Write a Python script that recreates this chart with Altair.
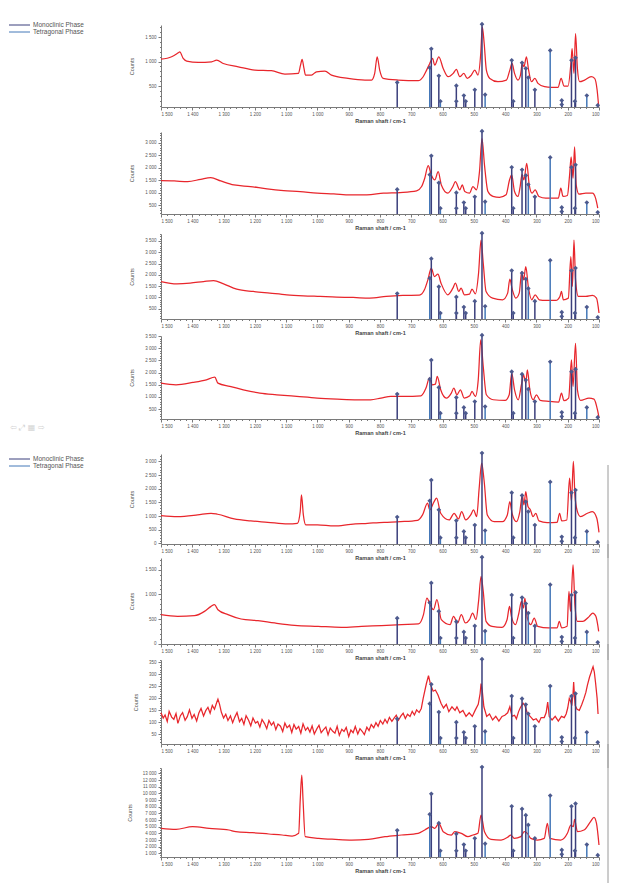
import altair as alt
import pandas as pd

# ---------------- reference stick lines (relative intensity) ----------------
stick_wn = [745, 641, 636, 612, 607, 556, 556, 532, 526, 497, 474, 464, 379, 374,
            346, 334, 326, 305, 256, 219, 219, 188, 177, 175, 139, 104]
stick_rel = [0.30, 0.48, 0.71, 0.38, 0.07, 0.07, 0.26, 0.14, 0.07, 0.21, 1.01, 0.15, 0.57, 0.07,
             0.54, 0.47, 0.36, 0.21, 0.69, 0.08, 0.03, 0.57, 0.07, 0.60, 0.14, 0.02]
stick_phase = ["M", "T", "M", "M", "T", "M", "M", "M", "M", "M", "M", "T", "M", "M",
               "M", "M", "T", "M", "T", "M", "M", "M", "M", "M", "T", "M"]

legend_labels = ["Monoclinic Phase", "Tetragonal Phase"]
toolbar_icons = ["\u21e6  \u2922  \u25a6  \u21e8"]

# ---------------- spectra ----------------
p1_wn = [1500,1466,1445,1440,1429,1418,1381,1338,1322,1301,1253,1200,1147,1104,1061,1054,1049,1043,1038,1019,
         1003,976,955,902,848,827,817,809,801,790,742,678,662,651,641,632,625,612,598,582,
         566,556,545,532,521,508,497,487,478,473,467,460,449,423,396,385,378,370,359,351,
         345,340,332,325,316,305,295,274,253,231,221,212,199,189,186,180,175,169,162,146,
         125,114,106,101]
p1_val = [1050,1100,1180,1200,1064,1010,983,996,1030,962,894,826,813,745,758,928,1044,860,724,724,
          792,806,724,656,622,622,758,1098,826,656,622,609,690,826,962,1064,928,1098,860,690,
          758,840,690,758,656,724,826,724,1166,1710,1370,826,656,588,622,826,962,758,622,724,
          962,894,1098,826,588,656,554,486,473,473,656,500,500,1030,1268,758,1574,860,588,622,
          690,656,418,78]

p2_wn = [1500,1458,1415,1373,1341,1309,1267,1214,1161,1108,1055,1001,948,895,842,789,736,683,667,657,
         646,636,625,614,604,583,567,559,545,537,529,514,503,492,482,474,466,455,439,418,
         397,386,379,370,359,352,346,340,331,323,314,304,292,270,249,230,222,215,201,194,
         189,183,178,173,164,142,121,111,104]
p2_val = [1480,1470,1444,1537,1604,1470,1311,1245,1152,1085,1045,979,952,912,912,979,1005,1072,1245,1577,
          2083,1710,1511,1843,1311,979,1245,1444,1112,1311,1045,979,1245,1112,1843,3173,2109,1045,846,806,
          912,1511,1710,1045,846,1245,1737,1511,2176,1311,979,1112,846,779,779,779,1178,846,886,1710,
          2442,1577,2841,1311,939,979,979,779,380]

p3_wn = [1500,1449,1407,1364,1332,1300,1258,1205,1152,1098,1045,992,939,886,833,780,727,674,658,647,
         636,626,615,605,583,567,559,548,541,530,514,506,495,485,477,470,461,440,408,392,
         385,377,366,355,347,341,334,326,315,304,291,270,238,225,220,214,198,190,185,180,
         175,166,142,121,108,100]
p3_val = [1705,1602,1632,1705,1750,1602,1367,1264,1191,1117,1073,1044,1014,1000,970,1044,1088,1103,1338,1779,
          2293,1926,2029,1632,1117,1411,1632,1264,1411,1117,1147,1367,1161,2073,3543,2514,1264,970,897,1191,
          1808,1338,970,1191,2146,1779,2367,1485,897,1117,897,867,867,1044,1264,897,970,2808,1485,3543,
          1779,1044,1044,1088,970,309]

p4_wn = [1500,1452,1398,1355,1328,1318,1280,1237,1184,1130,1066,1001,937,872,830,797,765,722,669,653,
         642,633,623,617,606,588,572,564,554,543,531,513,506,495,486,478,470,460,438,400,
         387,379,370,358,347,341,334,329,321,310,300,288,261,229,220,212,197,188,183,175,
         169,159,132,116,105,100]
p4_val = [1565,1497,1593,1702,1811,1565,1429,1292,1156,1087,1019,951,910,882,882,951,1019,1019,1046,1361,
          1770,1497,1524,1839,1292,951,1156,1361,1087,1292,951,1046,1224,1019,1702,3341,2248,1087,882,855,
          1087,1975,1292,882,1565,1907,1565,2112,1292,882,1087,855,814,787,1156,841,951,2522,1429,3205,
          1292,855,951,910,473,150]

p5_wn = [1500,1447,1383,1340,1319,1266,1213,1159,1095,1064,1055,1051,1045,1037,1000,946,893,840,787,734,
         680,664,648,641,627,619,606,579,563,549,539,526,510,501,491,483,475,467,457,435,
         409,393,385,378,364,353,345,340,334,327,319,311,302,292,266,234,226,219,203,194,
         188,182,177,169,159,137,121,107,100]
p5_val = [1015,978,1039,1100,1064,892,819,770,708,733,1162,1774,1039,672,672,635,696,733,770,794,
          843,1039,1468,1223,1529,1651,1100,855,1100,892,1162,855,1039,1223,978,2019,2938,2264,1039,794,
          794,1039,1529,1100,794,1162,1774,1407,1897,1345,1223,978,1100,819,757,770,1100,819,855,2387,
          1529,3000,1774,1162,978,1100,1162,917,402]

p6_wn = [1500,1447,1393,1361,1340,1329,1318,1286,1244,1190,1137,1073,998,923,859,795,731,677,661,650,
         640,629,618,604,576,565,552,540,527,514,504,493,485,477,470,461,442,410,394,386,
         380,367,356,348,341,337,329,318,307,296,261,234,227,219,202,196,191,183,177,169,
         152,131,120,110,101]
p6_val = [588,554,568,655,757,791,689,588,500,466,419,372,351,331,351,365,385,399,588,926,
          791,689,892,486,385,554,419,588,419,486,622,486,858,1365,1061,453,351,331,486,757,
          554,385,622,858,723,926,520,385,520,351,318,318,453,318,351,1061,655,1602,791,453,
          453,554,622,554,250]

p7_wn = [1500,1493,1487,1480,1474,1466,1459,1452,1446,1438,1431,1423,1416,1409,1401,1394,1386,1379,1372,1364,
         1357,1350,1343,1336,1329,1322,1318,1313,1307,1300,1293,1286,1278,1271,1264,1257,1249,1242,1235,1228,
         1220,1213,1206,1198,1191,1184,1177,1169,1162,1155,1147,1140,1133,1126,1118,1111,1104,1097,1089,1082,
         1075,1068,1060,1053,1046,1038,1031,1024,1017,1010,1002,995,988,981,973,966,959,951,944,937,
         930,922,915,908,900,893,886,879,871,864,857,850,842,835,828,820,813,806,799,791,
         784,777,770,762,755,748,741,733,726,719,712,704,697,690,683,675,668,662,652,645,
         638,630,623,615,605,597,588,580,570,560,554,545,535,525,515,505,496,486,480,477,
         473,468,459,450,440,430,420,410,401,392,385,378,370,364,357,352,343,337,328,320,
         310,301,292,285,275,269,264,259,250,240,230,220,211,205,200,195,190,187,183,181,
         178,176,170,163,155,148,142,137,130,126,121,119,115,111,106,103]
p7_val = [140,118,131,104,146,122,113,137,96,128,141,109,124,152,117,133,106,139,158,127,
          149,163,138,171,155,183,197,176,142,118,134,108,127,99,122,141,103,117,92,128,
          109,86,118,97,104,81,112,95,74,108,89,101,70,93,84,62,97,78,88,58,
          91,72,83,55,94,67,79,60,86,52,73,88,57,69,81,48,76,63,55,84,
          46,71,62,79,41,68,57,83,52,74,63,49,80,66,91,78,99,84,108,93,
          113,97,121,104,118,130,109,127,138,116,134,125,146,131,152,141,158,200,260,295,
          255,230,235,215,180,160,175,145,165,150,165,140,150,125,140,125,150,175,220,262,
          230,165,125,135,110,125,105,125,130,140,165,125,130,115,145,160,180,170,135,125,
          110,115,100,120,120,140,185,125,110,125,105,125,120,135,160,200,185,170,220,268,
          200,170,155,150,175,200,225,255,290,305,325,332,310,265,200,135]

p8_wn = [1500,1452,1399,1346,1283,1261,1208,1155,1113,1081,1060,1055,1050,1046,1039,996,943,890,837,784,
         731,678,657,636,625,612,598,572,561,540,519,503,487,477,466,445,413,392,382,371,
         350,339,329,318,297,275,265,257,222,201,190,182,178,169,148,127,116,108,100]
p8_val = [4750,4600,5000,4750,4500,4250,4100,3900,3750,3600,4000,9000,12750,9000,3500,3250,3100,3000,3100,3500,
          3750,4000,4500,5000,4750,5500,4250,3750,4250,4000,3500,3750,4000,6750,4250,3100,3000,3400,3750,3250,
          3500,4250,4000,3250,3000,3250,5500,3250,3000,4000,5250,5000,6100,4250,4500,5750,6400,5500,2250]

# panel settings: (wn, val, y-domain, major step, minor step, height, interpolation)
panels = [
    (p1_wn, p1_val, [70, 1750], 500, 100, 82, "monotone"),
    (p2_wn, p2_val, [140, 3440], 500, 100, 82, "monotone"),
    (p3_wn, p3_val, [45, 3810], 500, 100, 85, "monotone"),
    (p4_wn, p4_val, [90, 3505], 500, 100, 83, "monotone"),
    (p5_wn, p5_val, [-25, 3270], 500, 100, 90, "monotone"),
    (p6_wn, p6_val, [-8, 1740], 500, 100, 86, "monotone"),
    (p7_wn, p7_val, [10, 360], 50, 10, 84, "linear"),
    (p8_wn, p8_val, [450, 13800], 1000, 250, 89, "monotone"),
]
# vertical gaps between plot areas (px): before P2 ... P8
gaps = [25, 20, 17, 35, 14, 16, 24]

RED = "#e8262c"
MONO = "#3b3f7c"
TETRA = "#4478b8"
DIAM = "#4d5a8e"
AX = "#7a7a7a"
W = 438

sticks_df = pd.DataFrame({"wn": stick_wn, "rel": stick_rel, "phase": stick_phase})


def fmt_expr(step):
    return ("datum.value % " + str(step) + " == 0 ? replace(format(datum.value, ','), ',', ' ') : ''")


XAXIS = dict(
    values=list(range(1500, 99, -20)),
    labelExpr=fmt_expr(100),
    tickSize={"condition": {"test": "datum.value % 100 == 0", "value": 3}, "value": 1.5},
    labelFontSize=4.5, labelColor="#555", labelPadding=1, labelOverlap=False,
    labelFont="Liberation Sans",
    title="Raman shaft / cm-1", titleFontSize=5.5, titleFontWeight="bold",
    titleColor="#444", titlePadding=3, titleFont="Liberation Sans",
    domainColor=AX, tickColor=AX, grid=False,
)


def make_panel(wn, val, dom, major, minor, h, interp, legend_dy=None, frame=None, toolbar=False):
    assert len(wn) == len(val)
    df = pd.DataFrame({"wn": wn, "val": val})
    xs = alt.Scale(domain=[1500, 100], nice=False, zero=False)
    lo = (int(dom[0]) // minor + 1) * minor
    yvals = list(range(lo, int(dom[1]) + 1, minor))
    yaxis = alt.Axis(
        values=yvals,
        labelExpr=fmt_expr(major),
        tickSize={"condition": {"test": "datum.value % " + str(major) + " == 0", "value": 3},
                  "value": 1.5},
        labelFontSize=4.5, labelColor="#555", labelPadding=2, labelOverlap=False,
        labelFont="Liberation Sans",
        title="Counts", titleFontSize=5.5, titleFontWeight="normal", titleColor="#555",
        titlePadding=10, titleFont="Liberation Sans",
        domainColor=AX, tickColor=AX, grid=False,
    )
    line = alt.Chart(df).mark_line(color=RED, strokeWidth=1.25, interpolate=interp).encode(
        x=alt.X("wn:Q", scale=xs, axis=alt.Axis(**XAXIS)),
        y=alt.Y("val:Q", scale=alt.Scale(domain=dom, nice=False, zero=False, clamp=True), axis=yaxis),
    )
    rel_scale = alt.Scale(domain=[0, 1], nice=False, zero=False)
    sticks = alt.Chart(sticks_df).mark_rule(strokeWidth=1.5).encode(
        x=alt.X("wn:Q", scale=xs, axis=alt.Axis(**XAXIS)),
        y=alt.Y("rel:Q", scale=rel_scale, axis=None),
        y2=alt.datum(0),
        color=alt.Color("phase:N", scale=alt.Scale(domain=["M", "T"], range=[MONO, TETRA]), legend=None),
    )
    diam = alt.Chart(sticks_df).mark_point(shape="diamond", filled=True, size=22, opacity=1,
                                           color=DIAM).encode(
        x=alt.X("wn:Q", scale=xs, axis=alt.Axis(**XAXIS)),
        y=alt.Y("rel:Q", scale=rel_scale, axis=None),
    )
    layers = [line, sticks, diam]
    if legend_dy is not None:
        for i, (lab, col) in enumerate(zip(legend_labels, [MONO, TETRA])):
            ldf = pd.DataFrame({"label": [lab]})
            yy = legend_dy + 7 * i
            layers.append(alt.Chart(ldf).mark_rule(color=col, strokeWidth=1).encode(
                x=alt.value(-152), x2=alt.value(-131), y=alt.value(yy)))
            layers.append(alt.Chart(ldf).mark_text(align="left", baseline="middle", fontSize=6.5,
                                                   color="#555", font="Liberation Sans").encode(
                x=alt.value(-128), y=alt.value(yy), text="label:N"))
    if toolbar:
        tdf = pd.DataFrame({"icons": toolbar_icons})
        layers.append(alt.Chart(tdf).mark_text(align="left", baseline="middle", fontSize=8,
                                               color="#d4d4d4", font="DejaVu Sans").encode(
            x=alt.value(-151), y=alt.value(h + 9), text="icons:N"))
    if frame is not None:
        fdf = pd.DataFrame({"f": [0]})
        layers.append(alt.Chart(fdf).mark_rule(color="#9a9a9a", strokeWidth=1).encode(
            x=alt.value(447), y=alt.value(frame[0]), y2=alt.value(frame[1])))
    return alt.layer(*layers).resolve_scale(y="independent").properties(width=W, height=h)


def spacer(g):
    return alt.Chart(pd.DataFrame({"s": [0]})).mark_point(opacity=0).encode(
        x=alt.value(0), y=alt.value(0)).properties(width=W, height=g)


rows = []
for i, (wn, val, dom, major, minor, h, interp) in enumerate(panels):
    legend_dy = None
    frame = None
    if i == 0:
        legend_dy = 0
    if i == 4:
        legend_dy = 5
        frame = (11, h + 14)
    elif i == 5:
        frame = (-14, h + 16)
    elif i == 6:
        frame = (-16, h + 24)
    elif i == 7:
        frame = (-24, h + 30)
    if i > 0:
        rows.append(spacer(gaps[i - 1]))
    rows.append(make_panel(wn, val, dom, major, minor, h, interp, legend_dy, frame, toolbar=(i == 3)))

chart = alt.vconcat(*rows, spacing=0, bounds="flush").properties(
    padding={"left": 8, "top": 21, "right": 5, "bottom": 5},
    background="white",
).configure_view(stroke=None)

chart.save("out.html", embed_options={"renderer": "svg", "actions": False})
